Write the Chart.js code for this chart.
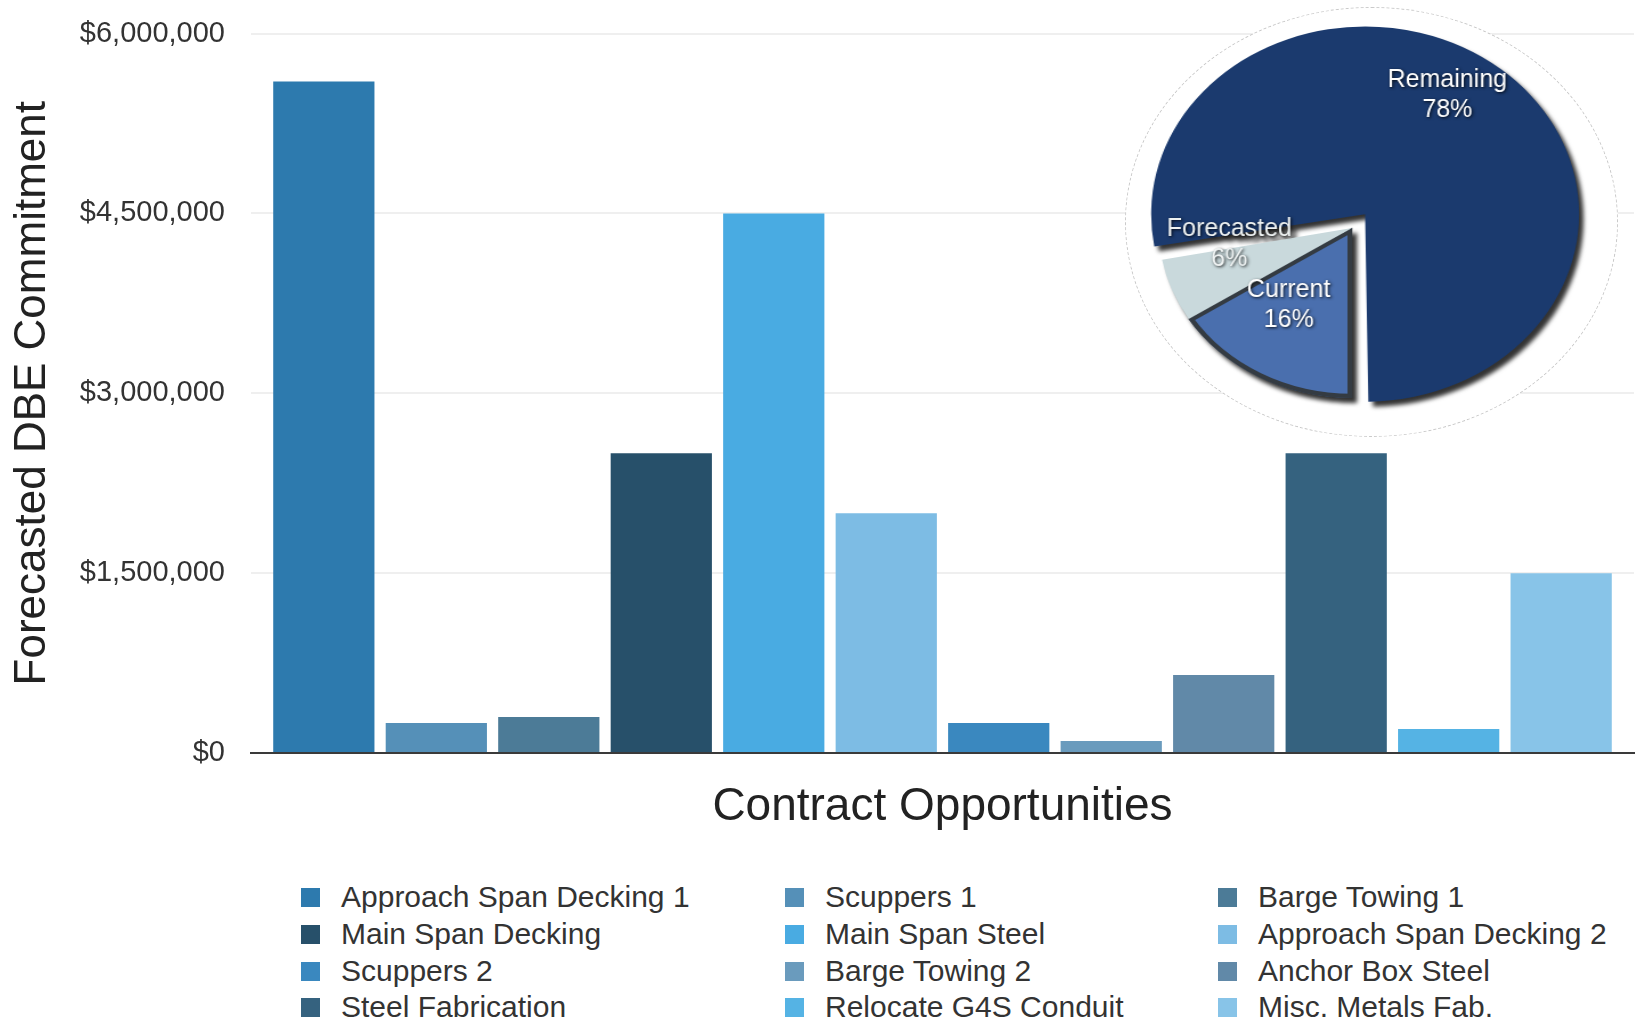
<!DOCTYPE html>
<html>
<head>
<meta charset="utf-8">
<script src="https://cdn.jsdelivr.net/npm/chart.js@4.4.1/dist/chart.umd.min.js"></script>
<style>
  html, body { margin: 0; padding: 0; background: #fff; width: 1640px; height: 1020px; overflow: hidden; }
  body { position: relative; font-family: 'Liberation Sans', Arial, Helvetica, sans-serif; }
  #mainWrap { position: absolute; left: 0; top: 0; width: 1640px; height: 850px; }
  #ellipse { position: absolute; left: 1125px; top: 7px; width: 493px; height: 430px; border-radius: 50%;
             background: #fff; border: 1px dashed #c9c9c9; box-sizing: border-box; }
  #pieCanvas { position: absolute; left: 1142px; top: 18px; transform-origin: 50% 50%;
               filter: drop-shadow(4px 5px 2px rgba(0,0,0,0.8)); }
  .lg-item { position: absolute; height: 36px; display: flex; align-items: center; white-space: nowrap;
             font-size: 30px; color: #333; }
  .lg-box { width: 19px; height: 19px; margin-right: 21px; flex: none; }
</style>
</head>
<body>
<div id="mainWrap"><canvas id="mainCanvas"></canvas></div>
<div id="ellipse"></div>
<canvas id="pieCanvas" width="420" height="420"></canvas>
<div id="legend"></div>
<script>
// ---------- data ----------
const categories = ['Approach Span Decking 1', 'Scuppers 1', 'Barge Towing 1',
  'Main Span Decking', 'Main Span Steel', 'Approach Span Decking 2',
  'Scuppers 2', 'Barge Towing 2', 'Anchor Box Steel',
  'Steel Fabrication', 'Relocate G4S Conduit', 'Misc. Metals Fab.'];
const values = [5600000, 250000, 300000, 2500000, 4500000, 2000000,
  250000, 100000, 650000, 2500000, 200000, 1500000];
const barColors = ['#2d7aae', '#5590b8', '#4c7b97', '#27506a', '#49abe2', '#7dbce4',
  '#3a88bf', '#6a9bbd', '#6189a8', '#35627f', '#55b3e4', '#88c4e8'];
const yTicks = [0, 1500000, 3000000, 4500000, 6000000];
const yTitle = 'Forecasted DBE Commitment';
const xTitle = 'Contract Opportunities';

const pieLabels = ['Current', 'Forecasted', 'Remaining'];
const pieValues = [16, 6, 78];
const pieColors = ['#4a6fae', '#c9d9dc', '#1b3a6e'];
const pieOffsets = [0, 0, 72];
const pieBorders = [4, 0, 0];
// label placement inside each slice: radial fraction and angular fraction
const pieLabelFrac = [0.56, 0.64, 0.82];
const pieLabelAng = [0.62, 1.1, 0.47];

// ---------- layout constants ----------
const FONT = "'Liberation Sans', Arial, Helvetica, sans-serif";
const PIE_SX = 1.14;

// ---------- main bar chart ----------
const mainCanvas = document.getElementById('mainCanvas');
new Chart(mainCanvas, {
  type: 'bar',
  data: {
    labels: [''],
    datasets: categories.map((c, i) => ({
      label: c,
      data: [values[i]],
      backgroundColor: barColors[i],
      borderWidth: 0
    }))
  },
  options: {
    responsive: true,
    maintainAspectRatio: false,
    animation: false,
    devicePixelRatio: 1,
    layout: { padding: { top: 33.5, right: 6, left: 0, bottom: 0 } },
    datasets: { bar: { categoryPercentage: 0.976, barPercentage: 0.9 } },
    plugins: { legend: { display: false }, tooltip: { enabled: false } },
    scales: {
      x: {
        grid: { display: false, drawTicks: false },
        border: { display: true, color: '#3a3a3a', width: 2 },
        ticks: { display: false },
        title: { display: true, text: xTitle, color: '#222',
                 font: { family: FONT, size: 46 }, padding: { top: 0, bottom: 15 } },
        afterFit: s => { s.height = 97; }
      },
      y: {
        min: 0, max: 6000000,
        afterBuildTicks: s => { s.ticks = yTicks.map(v => ({ value: v })); },
        grid: { color: ctx => (ctx.tick && ctx.tick.value === 0) ? 'rgba(0,0,0,0)' : '#efefef',
                lineWidth: 2, drawTicks: false },
        border: { display: false },
        ticks: { padding: 26, color: '#333', font: { family: FONT, size: 29 },
                 callback: v => '$' + Number(v).toLocaleString('en-US') },
        title: { display: true, text: yTitle, color: '#222',
                 font: { family: FONT, size: 44 }, padding: { top: 6, bottom: 0 } },
        afterFit: s => { s.width = 251; s.paddingTop = 10; s.paddingBottom = 10; }
      }
    }
  }
});

// ---------- legend (HTML, built from the data arrays) ----------
const legendCols = [301, 785, 1218];
const legendRows = [897, 934, 971, 1007];
const legendEl = document.getElementById('legend');
categories.forEach((c, i) => {
  const item = document.createElement('div');
  item.className = 'lg-item';
  item.style.left = legendCols[i % 3] + 'px';
  item.style.top = (legendRows[Math.floor(i / 3)] - 18) + 'px';
  const box = document.createElement('span');
  box.className = 'lg-box';
  box.style.background = barColors[i];
  const txt = document.createElement('span');
  txt.textContent = c;
  item.appendChild(box);
  item.appendChild(txt);
  legendEl.appendChild(item);
});

// ---------- inset pie ----------
const pieCanvas = document.getElementById('pieCanvas');
pieCanvas.style.transform = 'scaleX(' + PIE_SX + ')';
const pieLabelPlugin = {
  id: 'pieLabels',
  afterDatasetsDraw(chart) {
    const ctx = chart.ctx;
    const meta = chart.getDatasetMeta(0);
    meta.data.forEach((arc, i) => {
      const p = arc.getProps(['x', 'y', 'startAngle', 'endAngle', 'outerRadius'], true);
      const mid = (p.startAngle + p.endAngle) / 2;
      const ang = p.startAngle + (p.endAngle - p.startAngle) * pieLabelAng[i];
      const shift = pieOffsets[i] / 4;
      const ox = p.x + Math.cos(mid) * shift;
      const oy = p.y + Math.sin(mid) * shift;
      const r = p.outerRadius * pieLabelFrac[i];
      const lx = ox + Math.cos(ang) * r;
      const ly = oy + Math.sin(ang) * r;
      ctx.save();
      ctx.translate(lx, ly);
      ctx.scale(1 / PIE_SX, 1);
      ctx.font = '25px ' + FONT;
      ctx.textAlign = 'center';
      ctx.textBaseline = 'middle';
      ctx.shadowColor = 'rgba(0,0,0,0.85)';
      ctx.shadowBlur = 3;
      ctx.shadowOffsetX = 1;
      ctx.shadowOffsetY = 1;
      ctx.fillStyle = i === 1 ? '#eef2f2' : '#ffffff';
      ctx.fillText(pieLabels[i], 0, -15);
      ctx.fillText(pieValues[i] + '%', 0, 15);
      ctx.restore();
    });
  }
};
new Chart(pieCanvas, {
  type: 'pie',
  data: {
    labels: pieLabels,
    datasets: [{
      data: pieValues,
      backgroundColor: pieColors,
      borderColor: '#343b42',
      borderWidth: pieBorders,
      borderAlign: 'inner',
      offset: pieOffsets
    }]
  },
  options: {
    responsive: false,
    animation: false,
    devicePixelRatio: 1,
    rotation: 180,
    radius: 170,
    layout: { padding: 0 },
    plugins: { legend: { display: false }, tooltip: { enabled: false } }
  },
  plugins: [pieLabelPlugin]
});
</script>
</body>
</html>
